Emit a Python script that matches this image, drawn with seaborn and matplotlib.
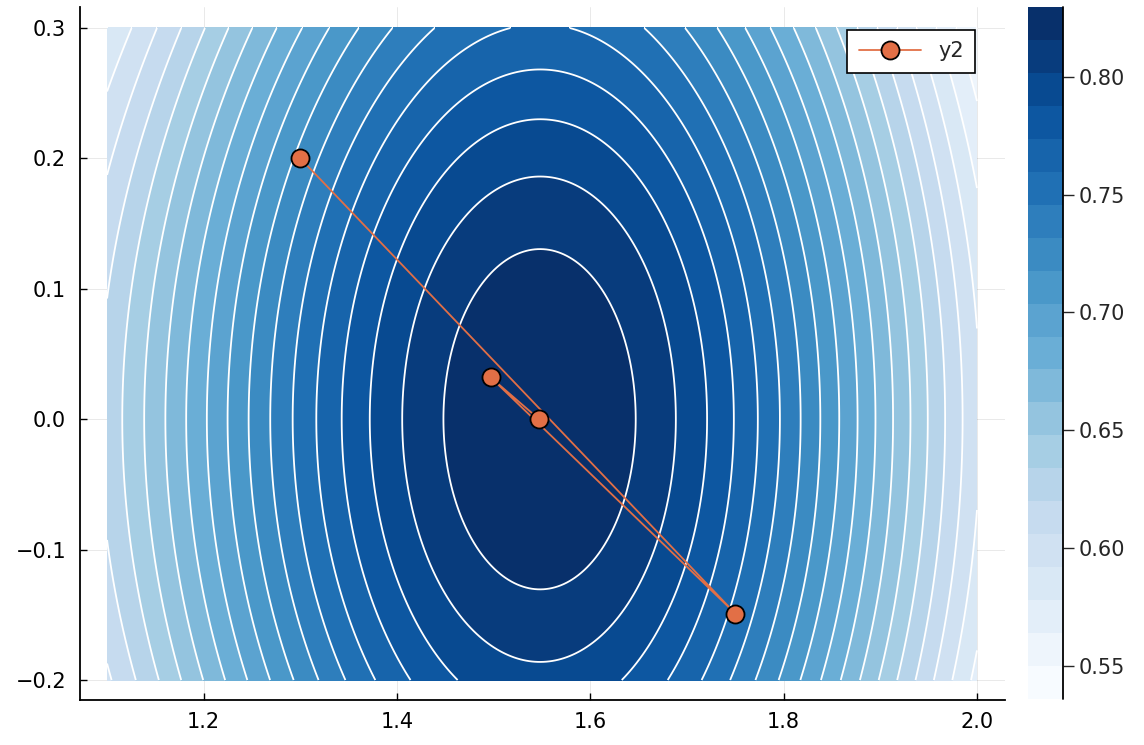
import numpy as np
import matplotlib
matplotlib.use("Agg")
import matplotlib.pyplot as plt
from matplotlib.colors import ListedColormap
import seaborn as sns

# grid extent of the surface
x_range = [1.1, 2.0]
y_range = [-0.2, 0.3]

# surface shape (peak, curvature along x and y, coupling)
peak_x = 1.548
peak_z = 0.8296
coef_x = [1.43, 0.15, -1.7]   # u^2, u^3, u^4
coef_y = [0.835, -0.8]        # y^2, y^4
coupling = 1.7

# filled contour levels as on the colorbar
z_min, z_max, n_bands = 0.536, 0.8296, 21
cbar_ticks = [0.55, 0.60, 0.65, 0.70, 0.75, 0.80]

# optimisation path
path_x = [1.3, 1.75, 1.497, 1.547]
path_y = [0.2, -0.149, 0.032, 0.0]

xticks = [1.2, 1.4, 1.6, 1.8, 2.0]
yticks = [-0.2, -0.1, 0.0, 0.1, 0.2, 0.3]

sns.set_style("ticks")
plt.rcParams["font.family"] = ["DejaVu Sans"]

xs = np.linspace(x_range[0], x_range[1], 300)
ys = np.linspace(y_range[0], y_range[1], 300)
X, Y = np.meshgrid(xs, ys)
u = X - peak_x
G = coef_x[0] * u**2 + coef_x[1] * u**3 + coef_x[2] * u**4
H = coef_y[0] * Y**2 + coef_y[1] * Y**4
Z = peak_z - G - H * (1 - coupling * u**2)

levels = np.linspace(z_min, z_max, n_bands + 1)
Z = np.clip(Z, levels[0], levels[-1])
cmap = ListedColormap(plt.get_cmap("Blues")(np.linspace(0, 1, n_bands)))

fig = plt.figure(figsize=(11.44, 7.45), dpi=100)
ax = fig.add_axes([80 / 1144, 1 - 700 / 745, 925 / 1144, 693 / 745])
cax = fig.add_axes([1028 / 1144, 1 - 699 / 745, 35 / 1144, 692 / 745])

ax.set_axisbelow(True)
ax.grid(True, color="black", alpha=0.1, linewidth=0.6)

cs = ax.contourf(X, Y, Z, levels=levels, cmap=cmap, zorder=1)
ax.contour(X, Y, Z, levels=levels[1:-1], colors="white", linewidths=1.3, zorder=2)

sns.lineplot(x=path_x, y=path_y, sort=False, ax=ax, color="#e26f46",
             linewidth=1.3, marker="o", markersize=13, markeredgecolor="black",
             markeredgewidth=1.3, label="y2", zorder=5)

ax.set_xlim(1.072, 2.029)
ax.set_ylim(-0.2153, 0.3161)
ax.set_xticks(xticks)
ax.set_yticks(yticks)
ax.set_xticklabels([f"{t:.1f}" for t in xticks])
ax.set_yticklabels([f"{t:.1f}".replace("-", "\u2212") for t in yticks])
ax.tick_params(direction="in", length=5, width=1, labelsize=15, colors="black")
ax.tick_params(axis="x", pad=8.5)
ax.tick_params(axis="y", pad=10)
for side in ["top", "right"]:
    ax.spines[side].set_visible(False)
for side in ["left", "bottom"]:
    ax.spines[side].set_linewidth(1.3)
    ax.spines[side].set_color("black")

leg = ax.legend(loc="upper right", bbox_to_anchor=(0.9676, 0.9668), borderaxespad=0,
                fontsize=15, fancybox=False, edgecolor="black", framealpha=1,
                handlelength=3, borderpad=0.55)
leg.get_frame().set_linewidth(1.2)

cbar = fig.colorbar(cs, cax=cax)
cbar.outline.set_visible(False)
cbar.set_ticks(cbar_ticks)
cbar.set_ticklabels([f"{t:.2f}" for t in cbar_ticks])
cax.tick_params(length=8, width=1, labelsize=15, pad=3.5)
cax.plot([1, 1], [0, 1], transform=cax.transAxes, color="black", lw=1.3, clip_on=False)

fig.savefig("out.png", dpi=100)
